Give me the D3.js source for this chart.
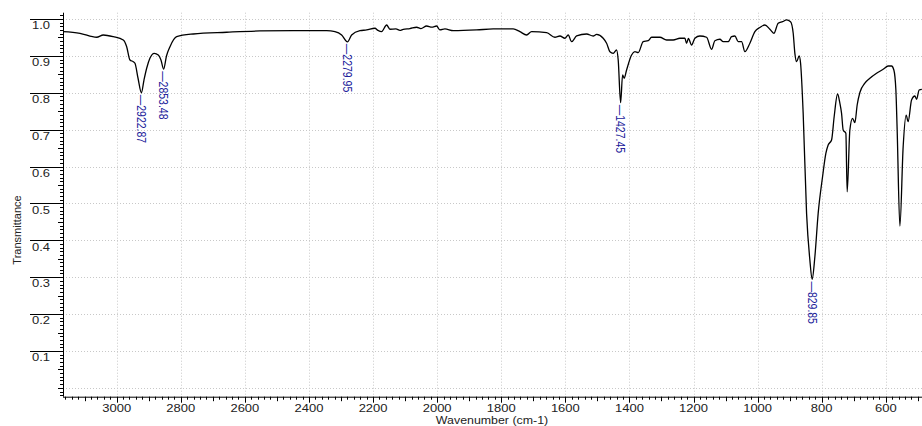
<!DOCTYPE html>
<html>
<head>
<meta charset="utf-8">
<script src="https://cdn.jsdelivr.net/npm/d3@7"></script>
<style>
  html, body { margin: 0; padding: 0; background: #fff; }
  svg { display: block; }
  text { font-family: "Liberation Sans", Arial, sans-serif; }
</style>
</head>
<body>
<svg id="chart" width="922" height="426"></svg>
<script>
// IR spectrum: wavenumber (cm-1) and transmittance
const wavenumbers = [
  3167.5, 3114.5, 3062.4, 3041.8, 3010.6, 2979.4, 2968.8, 2958.5, 2948.2, 2942.9,
  2933.5, 2922.87, 2914.8, 2906.4, 2896, 2882.7, 2870.2, 2861.8, 2853.48, 2844.6,
  2833.7, 2812.8, 2761, 2656.8, 2552.9, 2449, 2344.8, 2318.9, 2298, 2279.95,
  2266.8, 2240.9, 2220, 2194.1, 2184.7, 2173.2, 2157.6, 2147.3, 2128.6, 2116,
  2105.8, 2085, 2064, 2050.6, 2032.8, 2016.4, 2001.6, 1991.3, 1975.7, 1949.8,
  1876.8, 1825, 1762.6, 1741.7, 1720.8, 1705.2, 1658.4, 1632.5, 1616.9, 1601.3,
  1590.9, 1580.4, 1564.8, 1533.6, 1513, 1502.4, 1481.8, 1471.2, 1460.9, 1450.6,
  1440, 1435, 1427.45, 1421.3, 1416.3, 1408.8, 1393.2, 1382.9, 1372.6, 1357,
  1341.4, 1330.8, 1304.9, 1284, 1263.4, 1242.5, 1226.9, 1221.6, 1216, 1206,
  1195.7, 1180.1, 1159.2, 1143.6, 1133.3, 1117.7, 1107.4, 1091.8, 1081.2, 1070.9,
  1060.6, 1050, 1039.7, 1024.1, 1008.5, 992.9, 977.3, 961.7, 949.2, 935.8,
  922.1, 909.6, 897.2, 888.9, 883.7, 878.4, 870.3, 865.9, 857.8, 847.2,
  836.9, 829.85, 821.3, 811, 797.3, 787, 779.8, 769.2, 761.1, 750.5,
  743.3, 738, 733, 724.6, 720.5, 712.1, 703.7, 696.5, 689.3, 680.9,
  665.3, 649.7, 628.8, 608.2, 592.6, 582, 574.8, 568.5, 564.5, 556,
  545.8, 536.5, 530.2, 519.6, 509.3, 504, 495.9, 487.5
];
const transmittance = [
  0.9656, 0.9612, 0.9504, 0.9566, 0.952, 0.943, 0.9249, 0.8888, 0.8842, 0.880,
  0.84, 0.80, 0.8345, 0.8663, 0.894, 0.9069, 0.9024, 0.8888, 0.864, 0.8997,
  0.9249, 0.952, 0.9593, 0.964, 0.9675, 0.9683, 0.9683, 0.9656, 0.9566, 0.938,
  0.9566, 0.9683, 0.9702, 0.9748, 0.969, 0.9656, 0.9837, 0.9721, 0.9729, 0.969,
  0.9721, 0.974, 0.9775, 0.974, 0.981, 0.978, 0.981, 0.9702, 0.9729, 0.9683,
  0.9702, 0.9729, 0.9729, 0.9656, 0.9566, 0.9656, 0.9629, 0.9504, 0.9539, 0.9477,
  0.9566, 0.9384, 0.9539, 0.9593, 0.9539, 0.958, 0.9477, 0.9341, 0.9113, 0.9069,
  0.9159, 0.8888, 0.773, 0.8481, 0.8392, 0.8617, 0.9024, 0.9113, 0.9086, 0.9384,
  0.9411, 0.9504, 0.9504, 0.943, 0.943, 0.9477, 0.9477, 0.9341, 0.947, 0.9295,
  0.9477, 0.9539, 0.9504, 0.9178, 0.9411, 0.945, 0.9384, 0.9384, 0.952, 0.9539,
  0.9384, 0.9384, 0.9113, 0.9341, 0.9656, 0.977, 0.9837, 0.9721, 0.9612, 0.9883,
  0.9927, 0.9973, 0.9927, 0.9612, 0.9069, 0.8842, 0.8997, 0.8798, 0.7442, 0.473,
  0.3464, 0.294, 0.3553, 0.473, 0.5723, 0.6357, 0.6583, 0.6718, 0.735, 0.7966,
  0.772, 0.7442, 0.699, 0.69, 0.5316, 0.699, 0.7307, 0.7188, 0.7668, 0.8006,
  0.826, 0.8392, 0.8527, 0.8636, 0.8725, 0.8725, 0.8617, 0.8074, 0.699, 0.4386,
  0.6536, 0.7396, 0.722, 0.7803, 0.7912, 0.7822, 0.8074, 0.8093
];

// Labelled peak positions
const peakWavenumbers = [2922.87, 2853.48, 2279.95, 1427.45, 829.85];
const peakTransmittance = [0.80, 0.864, 0.938, 0.773, 0.294];

// Axis ticks
const xTickValues = [3000, 2800, 2600, 2400, 2200, 2000, 1800, 1600, 1400, 1200, 1000, 800, 600];
const yTickValues = [0.1, 0.2, 0.3, 0.4, 0.5, 0.6, 0.7, 0.8, 0.9, 1.0];
const yTickLabels = ["0.1", "0.2", "0.3", "0.4", "0.5", "0.6", "0.7", "0.8", "0.9", "1.0"];

const xTitle = "Wavenumber (cm-1)";
const yTitle = "Transmittance";

const svg = d3.select("#chart");
const plotLeft = 63, plotRight = 922, plotTop = 12.7, plotBottom = 396.7;
const stretch = 1.18;

const x = d3.scaleLinear().domain([3167.5, 487]).range([plotLeft, plotRight]);
const y = d3.scaleLinear().domain([-0.024, 1.017]).range([plotBottom, plotTop]);

// dotted grid
const grid = svg.append("g").attr("stroke", "#c8c8c8").attr("stroke-width", 1)
  .attr("stroke-dasharray", "1,2");
grid.selectAll("line.h").data(d3.range(0, 11).map(i => i / 10)).join("line")
  .attr("class", "h")
  .attr("x1", plotLeft).attr("x2", plotRight)
  .attr("y1", d => Math.round(y(d)) + 0.5).attr("y2", d => Math.round(y(d)) + 0.5);
grid.selectAll("line.v").data(xTickValues).join("line")
  .attr("class", "v")
  .attr("y1", plotTop).attr("y2", plotBottom)
  .attr("x1", d => Math.round(x(d)) + 0.5).attr("x2", d => Math.round(x(d)) + 0.5);

// y axis: minor ticks every 0.01, medium every 0.05
const yAxis = svg.append("g").attr("stroke", "#000").attr("stroke-width", 1);
yAxis.append("line").attr("x1", plotLeft + 0.5).attr("x2", plotLeft + 0.5)
  .attr("y1", plotTop).attr("y2", plotBottom);
const yMinor = d3.range(-2, 102).map(i => i / 100);
yAxis.selectAll("line.t").data(yMinor).join("line")
  .attr("class", "t")
  .attr("x1", plotLeft).attr("x2", d => {
    const k = Math.round(d * 100);
    return plotLeft - (k % 5 === 0 ? 5 : 3);
  })
  .attr("y1", d => Math.round(y(d)) + 0.5).attr("y2", d => Math.round(y(d)) + 0.5);
yAxis.selectAll("line.major").data(yTickValues).join("line")
  .attr("class", "major")
  .attr("x1", 30).attr("x2", plotLeft)
  .attr("y1", d => Math.round(y(d)) + 0.5).attr("y2", d => Math.round(y(d)) + 0.5);
svg.append("g").selectAll("text").data(yTickValues).join("text")
  .attr("transform", d => `translate(50,${y(d) + 10.3}) scale(${stretch},1)`)
  .attr("text-anchor", "end").attr("font-size", 11).attr("fill", "#222")
  .text((d, i) => yTickLabels[i]);

// x axis: minor ticks every 20, medium every 100
const xAxis = svg.append("g").attr("stroke", "#000").attr("stroke-width", 1);
xAxis.append("line").attr("x1", plotLeft).attr("x2", plotRight)
  .attr("y1", plotBottom + 0.5).attr("y2", plotBottom + 0.5);
const xMinor = d3.range(500, 3180, 20).filter(d => x(d) >= plotLeft && x(d) <= plotRight);
xAxis.selectAll("line.t").data(xMinor).join("line")
  .attr("class", "t")
  .attr("x1", d => Math.round(x(d)) + 0.5).attr("x2", d => Math.round(x(d)) + 0.5)
  .attr("y1", plotBottom).attr("y2", d => plotBottom + (d % 200 === 0 ? 6 : d % 100 === 0 ? 4.5 : 3));
svg.append("g").selectAll("text").data(xTickValues).join("text")
  .attr("transform", d => `translate(${x(d)},411.5) scale(${stretch},1)`)
  .attr("text-anchor", "middle").attr("font-size", 11).attr("fill", "#222")
  .text(d => d);

// axis titles
svg.append("text")
  .attr("transform", `translate(492,423.6) scale(${stretch},1)`)
  .attr("text-anchor", "middle").attr("font-size", 10.5).attr("fill", "#222")
  .text(xTitle);
svg.append("text")
  .attr("transform", `translate(21,230) rotate(-90)`)
  .attr("text-anchor", "middle").attr("font-size", 11).attr("fill", "#222")
  .text(yTitle);

// spectrum
const pts = wavenumbers.map((w, i) => [w, transmittance[i]]);
const line = d3.line().x(d => x(d[0])).y(d => y(d[1])).curve(d3.curveMonotoneX);
svg.append("path").datum(pts)
  .attr("d", line).attr("fill", "none").attr("stroke", "#000")
  .attr("stroke-width", 1.3).attr("stroke-linejoin", "round");

// peak labels, written downward from each marked minimum
svg.append("g").selectAll("text").data(peakWavenumbers).join("text")
  .attr("transform", (d, i) => `translate(${x(d)},${y(peakTransmittance[i]) + 2}) scale(${stretch},1) rotate(90)`)
  .attr("dy", "0.35em").attr("font-size", 10.5).attr("fill", "#20209a")
  .text(d => "\u2014" + d.toFixed(2));
</script>
</body>
</html>
